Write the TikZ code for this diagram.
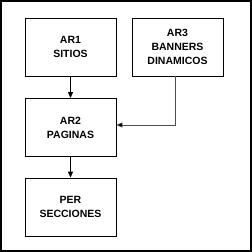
\documentclass[tikz,border=0pt]{standalone}
\usepackage{fontspec}
\setmainfont{Liberation Sans}
\usetikzlibrary{arrows.meta}
\begin{document}
\begin{tikzpicture}[x=1pt,y=-1pt,
  box/.style={draw=black,line width=0.8pt,fill=white,minimum width=91pt,minimum height=58pt,inner sep=0pt,align=center,font=\bfseries\fontsize{10.5}{14}\selectfont},
  arr/.style={draw=black,line width=0.9pt,-{Triangle[length=6pt,width=5pt]}},
  arrthin/.style={draw=black!70,line width=0.6pt,-{Triangle[length=6pt,width=5pt,fill=black]}}]
\useasboundingbox (0,0) rectangle (252,252);
\draw[line width=1.4pt] (1,1) rectangle (251,251);
\node[box] (ar1) at (70.5,47) {AR1\\SITIOS};
\node[box] (ar3) at (177.5,47) {AR3\\BANNERS\\DINAMICOS};
\node[box] (ar2) at (70.5,127.5) {AR2\\PAGINAS};
\node[box] (per) at (70.5,207) {PER\\SECCIONES};
\draw[arr] (ar1.south) -- (ar2.north);
\draw[arr] (ar2.south) -- (per.north);
\coordinate (bend) at (175,125);
\draw[arrthin] (ar3.south -| bend) -- (bend) -- (bend -| ar2.east);
\end{tikzpicture}
\end{document}
